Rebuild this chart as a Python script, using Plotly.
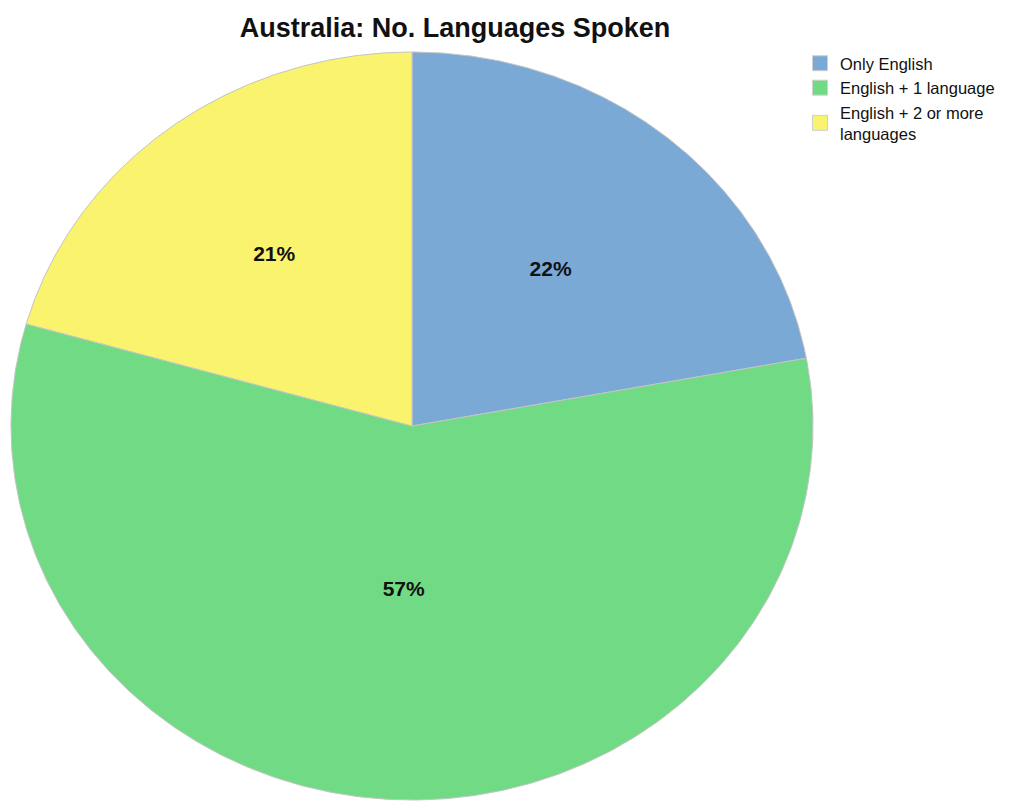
import numpy as np
import plotly.graph_objects as go

# ---- data ----
categories = ["Only English", "English + 1 language", "English + 2 or more<br>languages"]
values = [22.1, 57.3, 20.6]
labels = [f"{round(v)}%" for v in values]

# ---- style / geometry (figure pixel coords; page body adds an 8px offset) ----
colors = ["#7aa9d5", "#70db84", "#f9f36e"]
label_radius = [0.54, 0.44, 0.57]
W, H = 1010, 804
cx, cy, rx, ry = 404, 418, 401, 374
edge = "#c4c4c4"
FONT = "Liberation Sans, Arial, sans-serif"

fig = go.Figure()

total = float(sum(values))
start = 0.0
tx, ty = [], []
for i, v in enumerate(values):
    a0 = start / total * 2 * np.pi
    a1 = (start + v) / total * 2 * np.pi
    th = np.linspace(a0, a1, 300)
    xs = np.concatenate([[cx], cx + rx * np.sin(th), [cx]])
    ys = np.concatenate([[cy], cy - ry * np.cos(th), [cy]])
    fig.add_trace(go.Scatter(
        x=xs, y=ys, mode="lines", fill="toself", fillcolor=colors[i],
        line=dict(color=edge, width=1), showlegend=False, hoverinfo="skip"))
    am = (a0 + a1) / 2
    tx.append(cx + rx * label_radius[i] * np.sin(am))
    ty.append(cy - ry * label_radius[i] * np.cos(am))
    start += v

fig.add_trace(go.Scatter(
    x=tx, y=ty, mode="text", text=labels, showlegend=False, hoverinfo="skip",
    textfont=dict(family=FONT, size=21, color="#111111", weight="bold")))

for i, c in enumerate(categories):
    fig.add_trace(go.Scatter(
        x=[None], y=[None], mode="markers", name=c,
        marker=dict(symbol="square", size=15, color=colors[i], line=dict(color="#d0d0d0", width=1))))

fig.update_layout(
    width=W, height=H,
    margin=dict(l=0, r=0, t=0, b=0),
    paper_bgcolor="white", plot_bgcolor="white",
    xaxis=dict(range=[0, W], visible=False, fixedrange=True),
    yaxis=dict(range=[H, 0], visible=False, fixedrange=True),
    title=dict(text="Australia: No. Languages Spoken", x=447 / W, xanchor="center",
               y=1 - 20 / H, yanchor="middle", yref="container",
               font=dict(family=FONT, size=27, color="#111111", weight="bold")),
    legend=dict(x=792 / W, xanchor="left", y=1 - 38 / H, yanchor="top",
                font=dict(family=FONT, size=16.5, color="#111111"),
                bgcolor="rgba(0,0,0,0)", tracegroupgap=0, itemwidth=30),
    showlegend=True,
)

fig.write_html("out.html")
